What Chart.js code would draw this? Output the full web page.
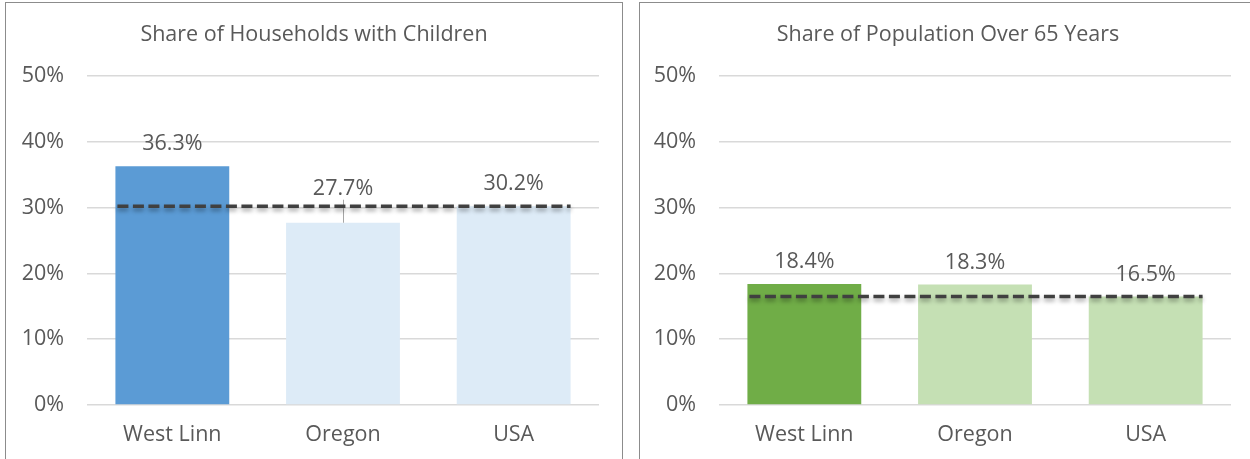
<!DOCTYPE html>
<html>
<head>
<meta charset="utf-8">
<script src="https://cdn.jsdelivr.net/npm/chart.js@4.4.1/dist/chart.umd.min.js"></script>
<style>
  html, body { margin: 0; padding: 0; background: #ffffff; overflow: hidden; width: 1250px; height: 459px; }
  .panel { position: absolute; top: 2px; border: 1px solid #8c8c8c; background: #fff; }
  #p1 { left: 5px; width: 616px; height: 470px; }
  #p2 { left: 639px; width: 616px; height: 470px; }
  canvas { display: block; }
</style>
</head>
<body>
<div class="panel" id="p1"><canvas id="c1" width="616" height="462"></canvas></div>
<div class="panel" id="p2"><canvas id="c2" width="616" height="462"></canvas></div>
<script>
// ---- data ----
const categories = ['West Linn', 'Oregon', 'USA'];
const householdsWithChildren = [36.3, 27.7, 30.2];
const populationOver65 = [18.4, 18.3, 16.5];
const yTickValues = [0, 10, 20, 30, 40, 50];
const titleLeft = 'Share of Households with Children';
const titleRight = 'Share of Population Over 65 Years';
const colorsLeft = ['#5B9BD5', '#DDEBF7', '#DDEBF7'];
const colorsRight = ['#70AD47', '#C5E0B4', '#C5E0B4'];

const FONT = "'Open Sans', 'Liberation Sans', sans-serif";
const FS = 21.5;
const TEXT = '#595959';

const refLinePlugin = {
  id: 'refLine',
  afterDatasetsDraw(chart) {
    const opts = chart.options.plugins.refLine;
    const meta = chart.getDatasetMeta(0);
    const ds = chart.data.datasets[0].data;
    const yScale = chart.scales.y;
    const ctx = chart.ctx;
    const refVal = ds[ds.length - 1];
    const yRef = yScale.getPixelForValue(refVal);
    // leader line(s)
    meta.data.forEach((el, i) => {
      if (opts.liftIndex === i) {
        ctx.save();
        ctx.strokeStyle = '#a6a6a6';
        ctx.lineWidth = 1;
        ctx.beginPath();
        ctx.moveTo(Math.round(el.x) + 0.5, el.y - opts.lift + 11);
        ctx.lineTo(Math.round(el.x) + 0.5, el.y);
        ctx.stroke();
        ctx.restore();
      }
    });
    // dashed reference line
    const first = meta.data[0], last = meta.data[meta.data.length - 1];
    ctx.save();
    ctx.shadowColor = 'rgba(0,0,0,0.35)';
    ctx.shadowBlur = 4;
    ctx.shadowOffsetY = 3;
    ctx.strokeStyle = '#404040';
    ctx.lineWidth = 3.5;
    ctx.setLineDash([11, 4.5]);
    ctx.beginPath();
    ctx.moveTo(first.x - first.width / 2 + 2, yRef);
    ctx.lineTo(last.x + last.width / 2, yRef);
    ctx.stroke();
    ctx.restore();
    // data labels
    ctx.save();
    ctx.fillStyle = TEXT;
    ctx.font = FS + 'px ' + FONT;
    ctx.textAlign = 'center';
    ctx.textBaseline = 'middle';
    meta.data.forEach((el, i) => {
      const off = opts.liftIndex === i ? opts.lift : 22;
      ctx.fillText(ds[i].toFixed(1) + '%', el.x, el.y - off);
    });
    ctx.restore();
  }
};

function makeChart(id, title, values, colors, yWidth, padRight, liftIndex) {
  return new Chart(document.getElementById(id), {
    type: 'bar',
    data: {
      labels: categories,
      datasets: [{
        data: values,
        backgroundColor: colors,
        borderWidth: 0,
        categoryPercentage: 1,
        barPercentage: 0.667
      }]
    },
    options: {
      responsive: false,
      animation: false,
      devicePixelRatio: 1,
      layout: { padding: 0 },
      plugins: {
        legend: { display: false },
        tooltip: { enabled: false },
        title: {
          display: true,
          text: title,
          color: TEXT,
          font: { family: FONT, size: FS, weight: 'normal', lineHeight: 1.2 },
          padding: { top: 19, bottom: 28.2 }
        },
        refLine: { liftIndex: liftIndex, lift: 34 }
      },
      scales: {
        y: {
          min: 0, max: 50,
          afterBuildTicks(scale) { scale.ticks = yTickValues.map(v => ({ value: v })); },
          afterFit(scale) { scale.width = yWidth; },
          border: { display: false },
          grid: { color: '#d9d9d9', lineWidth: 1.5, drawTicks: false },
          ticks: {
            padding: 23,
            color: TEXT,
            font: { family: FONT, size: FS },
            callback: v => v + '%'
          }
        },
        yRight: {
          position: 'right',
          min: 0, max: 50,
          afterFit(scale) { scale.width = padRight; },
          border: { display: false },
          grid: { display: false, drawTicks: false },
          ticks: { display: false }
        },
        x: {
          afterFit(scale) { scale.height = 60; },
          border: { display: false },
          grid: { display: false, drawTicks: false },
          ticks: {
            padding: 17,
            color: TEXT,
            font: { family: FONT, size: FS }
          }
        }
      }
    },
    plugins: [refLinePlugin]
  });
}

makeChart('c1', titleLeft, householdsWithChildren, colorsLeft, 81, 23, 1);
makeChart('c2', titleRight, populationOver65, colorsRight, 79, 25, -1);
</script>
</body>
</html>
